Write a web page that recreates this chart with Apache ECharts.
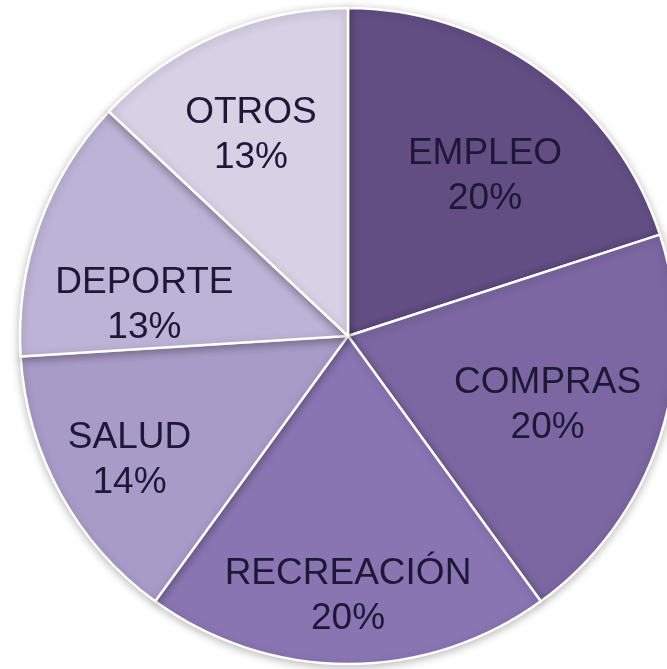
<!DOCTYPE html>
<html>
<head>
<meta charset="utf-8">
<script src="https://cdn.jsdelivr.net/npm/echarts@6/dist/echarts.min.js"></script>
<style>
  html, body { margin: 0; padding: 0; background: #ffffff; }
  #chart { width: 667px; height: 669px; }
</style>
</head>
<body>
<div id="chart"></div>
<script>
// Share of trips by purpose
const categories = ['EMPLEO', 'COMPRAS', 'RECREACIÓN', 'SALUD', 'DEPORTE', 'OTROS'];
const shares = [20, 20, 20, 14, 13, 13];

// Slice fills, darkest first
const sliceColors = ['#634e84', '#7c67a2', '#8a75b3', '#a89bc8', '#bdb3d6', '#d7d1e6'];
// Label placement: distance from the centre as a fraction of the radius,
// and a small turn (degrees, clockwise) away from the slice's mid-angle
const labelRadius = [0.65, 0.64, 0.78, 0.76, 0.63, 0.69];
const labelTurn = [4, 0, 0, 0, -10, -2];

const CX = 348, CY = 336, R = 328;
const LABEL_DROP = 4; // nudges the text block so caps sit on the optical centre

const chart = echarts.init(document.getElementById('chart'), null, { renderer: 'canvas' });

chart.setOption({
  backgroundColor: '#ffffff',
  animation: false,
  series: [{
    type: 'pie',
    center: [CX, CY],
    radius: [0, R],
    startAngle: 90,
    clockwise: true,
    avoidLabelOverlap: false,
    minShowLabelAngle: 0,
    data: categories.map((name, i) => ({
      name: name,
      value: shares[i],
      itemStyle: { color: sliceColors[i] }
    })),
    itemStyle: {
      borderColor: '#ffffff',
      borderWidth: 2.5,
      shadowColor: 'rgba(0,0,0,0.25)',
      shadowBlur: 8,
      shadowOffsetY: 2
    },
    label: {
      show: true,
      position: 'inside',
      formatter: p => p.name + '\n' + p.value + '%',
      fontFamily: '"Liberation Sans", Arial, sans-serif',
      fontSize: 37,
      lineHeight: 45,
      color: '#1c1836',
      align: 'center'
    },
    labelLine: { show: false },
    emphasis: { disabled: true },
    labelLayout: function (params) {
      const i = params.dataIndex;
      const rect = params.labelRect;
      const lx = rect.x + rect.width / 2;
      const ly = rect.y + rect.height / 2;
      // mid-angle of the slice, measured clockwise from the top
      const theta = Math.atan2(lx - CX, -(ly - CY)) + labelTurn[i] * Math.PI / 180;
      const d = labelRadius[i] * R;
      return {
        x: CX + d * Math.sin(theta),
        y: CY - d * Math.cos(theta) + LABEL_DROP,
        align: 'center',
        verticalAlign: 'middle',
        hideOverlap: false
      };
    }
  }]
});
</script>
</body>
</html>
